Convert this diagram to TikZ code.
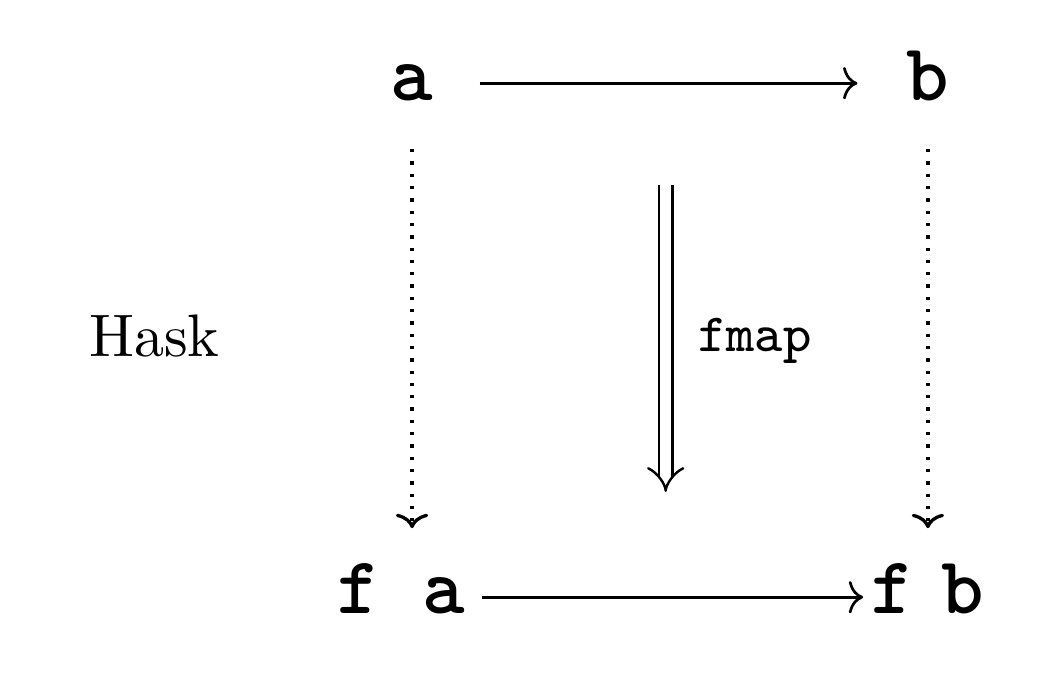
\documentclass[tikz,border=0pt]{standalone}
\usepackage{tikz}
\usetikzlibrary{arrows.meta, positioning}

\begin{document}
\begin{tikzpicture}[
    obj/.style={inner sep=0pt, anchor=base, text height=5.6pt, text depth=0pt, font=\fontsize{13.5}{16}\selectfont\ttfamily\bfseries},
    cat/.style={inner sep=0pt, anchor=base west, font=\normalsize},
    lbl/.style={inner sep=0pt, anchor=base west, font=\fontsize{9}{11}\selectfont\ttfamily},
    tip/.style={-{Computer Modern Rightarrow[length=2.4pt, width=5.4pt]}},
    arrow/.style={tip, line width=0.45pt},
    lift/.style={tip, line width=0.55pt, dash pattern=on 0.55pt off 1.5pt},
    nat/.style={-{Implies[scale=1.35]}, double, double distance=1.8pt, line width=0.4pt}
]
\useasboundingbox (0,0) rectangle (6.21,-4.019);

\node[obj] (a) at (2.414,-0.586) {a};
\node[obj] (b) at (5.436,-0.586) {b};
\node[obj] (fa) at (2.349,-3.597) {f a};
\node[obj] (fb) at (5.436,-3.597) {f\kern-2.5pt{} b};

\node[cat] (hask) at (0.516,-2.091) {Hask};

\coordinate (top) at (3.900,-1.084);
\coordinate (bot) at (3.900,-2.882);
\node[lbl] (fmap) at (4.083,-2.062) {fmap};

\draw[arrow, shorten <=7.5pt, shorten >=8pt] (a) -- (b);
\draw[arrow, shorten <=2.7pt, shorten >=1.2pt] (fa) -- (fb);
\draw[lift, shorten <=8pt, shorten >=8.5pt] (a) -- (a |- fa.north);
\draw[lift, shorten <=8pt, shorten >=8.5pt] (b) -- (b |- fb.north);
\draw[nat] (top) -- (bot);

\end{tikzpicture}
\end{document}
